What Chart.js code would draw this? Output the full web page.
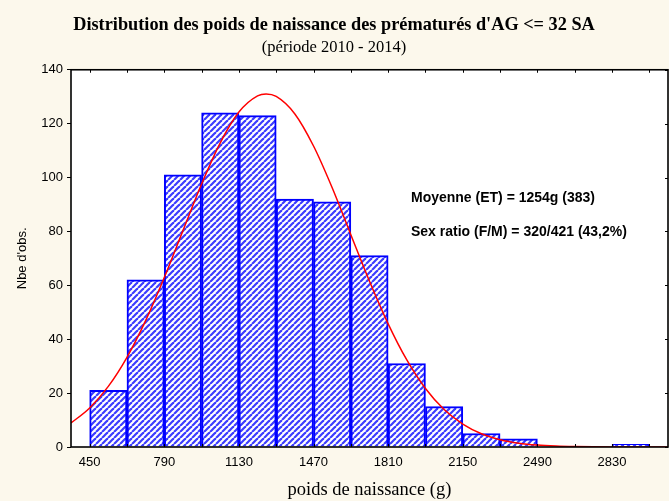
<!DOCTYPE html>
<html>
<head>
<meta charset="utf-8">
<script src="https://cdn.jsdelivr.net/npm/chart.js@4.4.1/dist/chart.umd.min.js"></script>
<style>
  html, body { margin: 0; padding: 0; background: #fcf8ec; }
  #wrap { width: 669px; height: 501px; }
</style>
</head>
<body>
<div id="wrap"><canvas id="chart" width="669" height="501"></canvas></div>
<script>
// Histogram bins (centre of each 170 g class) and observed counts
const binCenters = [535, 705, 875, 1045, 1215, 1385, 1555, 1725, 1895, 2065, 2235, 2405, 2575, 2745, 2915];
const binCounts = [21, 62, 101, 124, 123, 92, 91, 71, 31, 15, 5, 3, null, null, 1];

// Bin edges, used for the small inner ticks on top / bottom
const binEdges = [450, 620, 790, 960, 1130, 1300, 1470, 1640, 1810, 1980, 2150, 2320, 2490, 2660, 2830, 3000];

// Tick labels
const xTickLabels = [450, 790, 1130, 1470, 1810, 2150, 2490, 2830];
const yTickLabels = [0, 20, 40, 60, 80, 100, 120, 140];

// Fitted normal curve
const curveX = [365, 450, 535, 620, 705, 790, 875, 960, 1045, 1130, 1215, 1254, 1300, 1385, 1470, 1555, 1640,
                1725, 1810, 1895, 1980, 2065, 2150, 2235, 2320, 2405, 2490, 2575, 2660, 2745, 2830, 2915, 3000, 3085];
const curveY = [8.9, 14.5, 22.5, 33.3, 46.9, 62.9, 80.3, 97.6, 112.9, 124.3, 130.3, 131.0, 130.1, 123.6, 111.7, 96.2, 78.8,
                61.5, 45.7, 32.3, 21.7, 13.9, 8.5, 4.9, 2.7, 1.4, 0.7, 0.34, 0.15, 0.06, 0.02, 0, 0, 0];

// Text notes inside the plot
const notes = ['Moyenne (ET) = 1254g (383)', 'Sex ratio (F/M) = 320/421 (43,2%)'];

/**
 * Builds the diagonal blue hatch used to fill the bars.
 */
function makeHatch() {
    const size = 6;
    const c = document.createElement('canvas');
    c.width = size;
    c.height = size;
    const g = c.getContext('2d');
    g.fillStyle = '#ffffff';
    g.fillRect(0, 0, size, size);
    g.strokeStyle = '#3c3cff';
    g.lineWidth = 2.2;
    // "/" stripes, drawn three times so the tile wraps cleanly
    for (let k = -1; k <= 1; k++) {
        g.beginPath();
        g.moveTo(k * size, size);
        g.lineTo(k * size + size, 0);
        g.stroke();
    }
    return g.createPattern(c, 'repeat');
}

const hatch = makeHatch();

// White plot area, frame, inner ticks and text notes
const framePlugin = {
    id: 'frame',
    beforeDatasetsDraw(chart) {
        const a = chart.chartArea;
        const ctx = chart.ctx;
        ctx.save();
        ctx.fillStyle = '#ffffff';
        ctx.fillRect(a.left, a.top, a.right - a.left, a.bottom - a.top);
        ctx.restore();
    },
    afterDatasetsDraw(chart) {
        const a = chart.chartArea;
        const ctx = chart.ctx;
        const xs = chart.scales.x;
        const ys = chart.scales.y;
        ctx.save();
        ctx.strokeStyle = '#000000';
        ctx.lineWidth = 1;
        ctx.beginPath();
        binEdges.forEach(v => {
            const px = Math.round(xs.getPixelForValue(v)) + 0.5;
            ctx.moveTo(px, a.top);
            ctx.lineTo(px, a.top + 3);
            ctx.moveTo(px, a.bottom);
            ctx.lineTo(px, a.bottom - 3);
        });
        yTickLabels.forEach(v => {
            const py = Math.round(ys.getPixelForValue(v)) + 0.5;
            ctx.moveTo(a.right, py);
            ctx.lineTo(a.right - 3, py);
        });
        ctx.stroke();

        ctx.lineWidth = 1.6;
        ctx.strokeRect(a.left, a.top, a.right - a.left, a.bottom - a.top);

        // notes
        ctx.fillStyle = '#000000';
        ctx.font = 'bold 14px "Liberation Sans", Arial, sans-serif';
        ctx.textBaseline = 'middle';
        ctx.textAlign = 'left';
        ctx.fillText(notes[0], xs.getPixelForValue(1914), ys.getPixelForValue(92.5));
        ctx.fillText(notes[1], xs.getPixelForValue(1914), ys.getPixelForValue(79.8));
        ctx.restore();
    }
};

const ctx = document.getElementById('chart').getContext('2d');

new Chart(ctx, {
    data: {
        datasets: [
            {
                type: 'line',
                data: curveX.map((x, i) => ({ x: x, y: curveY[i] })),
                borderColor: '#ff0000',
                borderWidth: 1.5,
                pointRadius: 0,
                cubicInterpolationMode: 'monotone',
                fill: false,
                order: 0
            },
            {
                type: 'bar',
                data: binCenters.map((x, i) => ({ x: x, y: binCounts[i] })),
                backgroundColor: hatch,
                borderColor: '#0000ff',
                borderWidth: 2,
                barPercentage: 1,
                categoryPercentage: 1,
                order: 1
            }
        ]
    },
    options: {
        responsive: false,
        animation: false,
        layout: { padding: { left: 0, right: 1, top: 0, bottom: 0 } },
        plugins: {
            legend: { display: false },
            tooltip: { enabled: false },
            title: {
                display: true,
                text: "Distribution des poids de naissance des prématurés d'AG <= 32 SA",
                color: '#000000',
                font: { family: '"Liberation Serif", "Times New Roman", serif', size: 18.3, weight: 'bold' },
                padding: { top: 14, bottom: 2 }
            },
            subtitle: {
                display: true,
                text: '(période 2010 - 2014)',
                color: '#000000',
                font: { family: '"Liberation Serif", "Times New Roman", serif', size: 16.5 },
                padding: { top: 0, bottom: 12 }
            }
        },
        scales: {
            x: {
                type: 'linear',
                min: 365,
                max: 3085,
                offset: false,
                afterBuildTicks: scale => { scale.ticks = xTickLabels.map(v => ({ value: v })); },
                afterFit: scale => { scale.height = 54; },
                grid: { display: false, drawTicks: false },
                border: { display: false },
                ticks: {
                    color: '#000000',
                    padding: 8,
                    maxRotation: 0,
                    autoSkip: false,
                    callback: v => String(v),
                    font: { family: '"Liberation Sans", Arial, sans-serif', size: 13 }
                },
                title: {
                    display: true,
                    text: 'poids de naissance (g)',
                    color: '#000000',
                    font: { family: '"Liberation Serif", "Times New Roman", serif', size: 18.5 },
                    padding: { top: 0, bottom: 0 }
                }
            },
            y: {
                min: 0,
                max: 140,
                afterBuildTicks: scale => { scale.ticks = yTickLabels.map(v => ({ value: v })); },
                afterFit: scale => { scale.width = 71; },
                grid: { drawOnChartArea: false, drawTicks: true, tickLength: 4, color: '#000000' },
                border: { display: false },
                ticks: {
                    color: '#000000',
                    padding: 4,
                    callback: v => String(v),
                    font: { family: '"Liberation Sans", Arial, sans-serif', size: 13 }
                },
                title: {
                    display: true,
                    text: "Nbe d'obs.",
                    color: '#000000',
                    font: { family: '"Liberation Sans", Arial, sans-serif', size: 13 },
                    padding: { top: 15, bottom: 0 }
                }
            }
        }
    },
    plugins: [framePlugin]
});
</script>
</body>
</html>
